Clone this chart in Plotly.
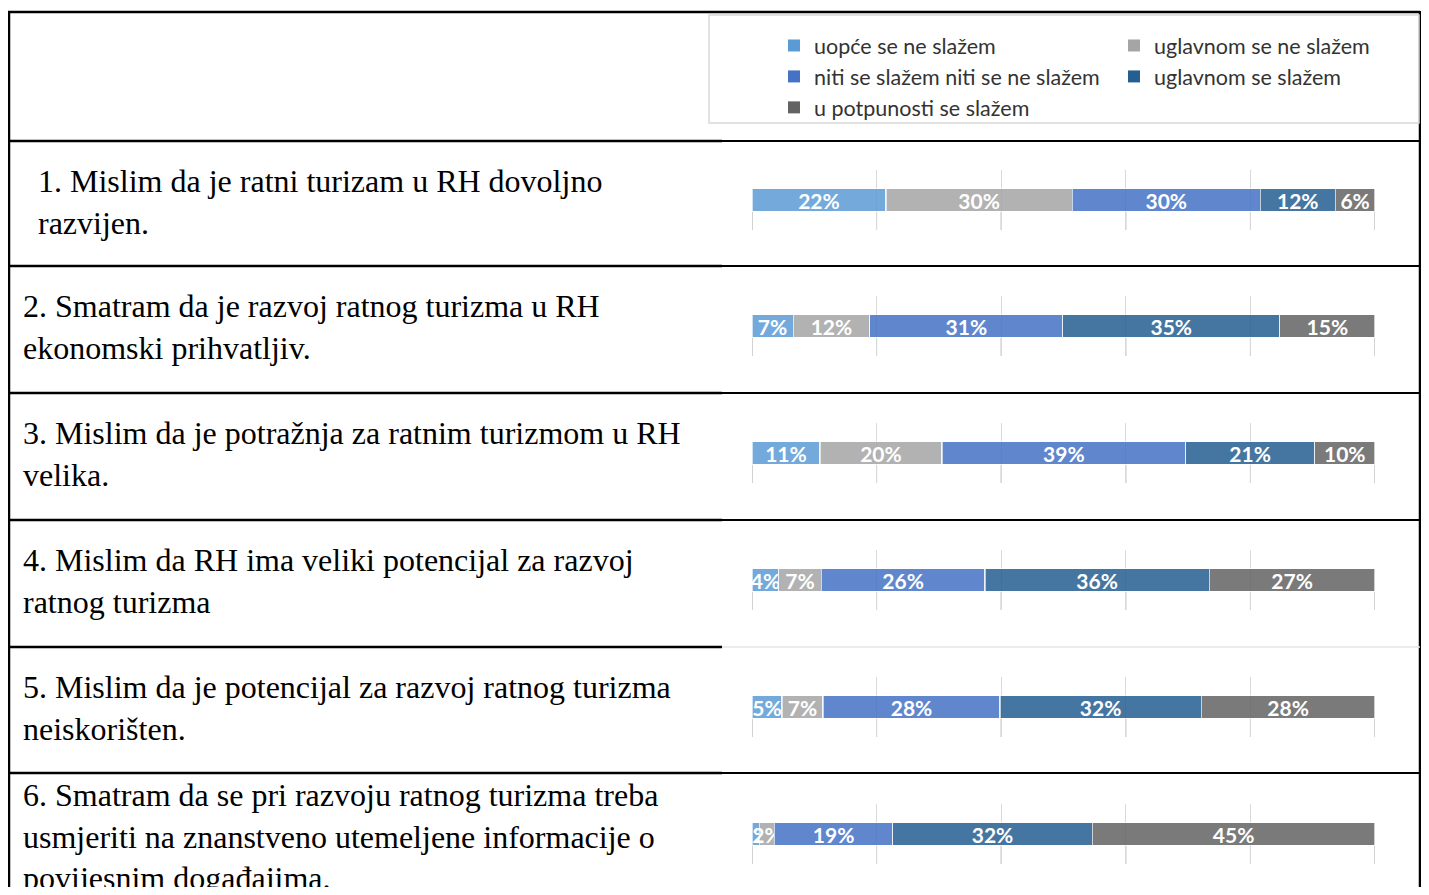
import plotly.graph_objects as go

OFF = 8                     # page body margin offset
W, H = 1429 - 2 * OFF, 895 - 2 * OFF

# ---------------- data ----------------
categories = ["uopće se ne slažem", "uglavnom se ne slažem",
              "niti se slažem niti se ne slažem", "uglavnom se slažem",
              "u potpunosti se slažem"]

statements = [
    "1. Mislim da je ratni turizam u RH dovoljno<br>razvijen.",
    "2. Smatram da je razvoj ratnog turizma u RH<br>ekonomski prihvatljiv.",
    "3. Mislim da je potražnja za ratnim turizmom u RH<br>velika.",
    "4. Mislim da RH ima veliki potencijal za razvoj<br>ratnog turizma",
    "5. Mislim da je potencijal za razvoj ratnog turizma<br>neiskorišten.",
    "6. Smatram da se pri razvoju ratnog turizma treba<br>usmjeriti na znanstveno utemeljene informacije o<br>povijesnim događajima.",
]

q1_values = [21.5, 29.9, 30.2, 12.0, 6.4]
q2_values = [6.6, 12.3, 31.0, 34.8, 15.3]
q3_values = [10.9, 19.6, 39.1, 20.7, 9.7]
q4_values = [4.3, 6.8, 26.3, 36.0, 26.6]
q5_values = [4.8, 6.6, 28.4, 32.3, 27.9]
q6_values = [1.2, 2.4, 19.0, 32.0, 45.4]

q1_labels = ["22%", "30%", "30%", "12%", "6%"]
q2_labels = ["7%", "12%", "31%", "35%", "15%"]
q3_labels = ["11%", "20%", "39%", "21%", "10%"]
q4_labels = ["4%", "7%", "26%", "36%", "27%"]
q5_labels = ["5%", "7%", "28%", "32%", "28%"]
q6_labels = ["1%", "2%", "19%", "32%", "45%"]

x_ticks = [0, 20, 40, 60, 80, 100]

all_values = [q1_values, q2_values, q3_values, q4_values, q5_values, q6_values]
all_labels = [q1_labels, q2_labels, q3_labels, q4_labels, q5_labels, q6_labels]

# ---------------- styles ----------------
legend_colors = ["#5B9BD5", "#A5A5A5", "#4472C4", "#255E91", "#636363"]


def rgba(hex_color, a):
    h = hex_color.lstrip("#")
    r, g, b = int(h[0:2], 16), int(h[2:4], 16), int(h[4:6], 16)
    return f"rgba({r},{g},{b},{a})"


def px(x):
    return (x - OFF) / W


def py(y):
    return 1 - (y - OFF) / H


row_lines = [141, 266, 393, 520, 647, 773]
bar_centers = [200, 326, 453, 580, 707, 834]
text_centers = [202, 327, 454, 581, 708, 836]
text_left = [36, 21, 21, 21, 21, 21]
chart_x0, chart_x1 = 752, 1375
half_h = 30

fig = go.Figure()

for i, (vals, labs) in enumerate(zip(all_values, all_labels)):
    n = i + 1
    xa = "x" if n == 1 else f"x{n}"
    ya = "y" if n == 1 else f"y{n}"
    for j, cat in enumerate(categories):
        fig.add_trace(go.Bar(
            x=[vals[j]], y=[0], orientation="h", name=cat,
            xaxis=xa, yaxis=ya, width=0.38,
            marker=dict(color=rgba(legend_colors[j], 0.85),
                        line=dict(color="rgba(255,255,255,0.65)", width=1.2)),
            text=[labs[j]], textposition="inside", insidetextanchor="middle",
            textangle=0, constraintext="none", cliponaxis=False,
            textfont=dict(family="Lato", size=21, color="white", weight="bold"),
            showlegend=False, hoverinfo="skip",
        ))

# legend entries (full colours), split across two columns
for j, cat in enumerate(categories):
    fig.add_trace(go.Bar(
        x=[None], y=[None], orientation="h", name=cat,
        xaxis="x", yaxis="y",
        marker=dict(color=legend_colors[j], line=dict(width=0)),
        showlegend=True, legend="legend" if j % 2 == 0 else "legend2",
    ))

legend_font = dict(family="Lato", size=21.5, color="#333333")
layout = dict(
    width=W, height=H, margin=dict(l=0, r=0, t=0, b=0),
    paper_bgcolor="white", plot_bgcolor="white",
    barmode="stack", showlegend=True,
    font=dict(family="Lato", color="#333333"),
    legend=dict(x=px(774), y=py(25), xanchor="left", yanchor="top",
                orientation="v", traceorder="normal", bgcolor="rgba(0,0,0,0)",
                font=legend_font),
    legend2=dict(x=px(1114), y=py(25), xanchor="left", yanchor="top",
                 orientation="v", traceorder="normal", bgcolor="rgba(0,0,0,0)",
                 font=legend_font),
)

shapes = []
annotations = []
for i in range(6):
    n = i + 1
    xk = "xaxis" if n == 1 else f"xaxis{n}"
    yk = "yaxis" if n == 1 else f"yaxis{n}"
    c = bar_centers[i]
    layout[xk] = dict(domain=[px(chart_x0), px(chart_x1)], range=[0, 100],
                      tickvals=x_ticks, showticklabels=False, ticks="",
                      showgrid=True, gridcolor="#d9d9d9", gridwidth=1,
                      zeroline=False, showline=False, fixedrange=True,
                      anchor="y" if n == 1 else f"y{n}")
    layout[yk] = dict(domain=[py(c + half_h), py(c - half_h)], range=[-0.5, 0.5],
                      showticklabels=False, showgrid=False, zeroline=False,
                      showline=False, fixedrange=True,
                      anchor="x" if n == 1 else f"x{n}")
    xr = "x" if n == 1 else f"x{n}"
    yr = ("y" if n == 1 else f"y{n}") + " domain"
    for t in x_ticks:
        shapes.append(dict(type="line", xref=xr, yref=yr, x0=t, x1=t, y0=0, y1=0.31,
                           line=dict(color="#a6a6a6", width=1), layer="below"))
    annotations.append(dict(
        text=statements[i], xref="paper", yref="paper",
        x=px(text_left[i]), y=py(text_centers[i]), xanchor="left", yanchor="middle",
        align="left", showarrow=False,
        font=dict(family="Liberation Serif", size=32, color="black")))

# table borders
black = dict(color="black", width=2.5)
RIGHT = 1420
shapes.append(dict(type="line", xref="paper", yref="paper", x0=px(8), x1=px(RIGHT),
                   y0=py(12), y1=py(12), line=black))
shapes.append(dict(type="line", xref="paper", yref="paper", x0=px(9), x1=px(9),
                   y0=py(11), y1=0, line=black))
shapes.append(dict(type="line", xref="paper", yref="paper", x0=px(RIGHT), x1=px(RIGHT),
                   y0=py(11), y1=0, line=black))
for k, yl in enumerate(row_lines):
    shapes.append(dict(type="line", xref="paper", yref="paper", x0=px(8), x1=px(722),
                       y0=py(yl), y1=py(yl), line=black))
    right_line = dict(color="#e6e6e6", width=1.5) if k == 4 else dict(color="black", width=2)
    shapes.append(dict(type="line", xref="paper", yref="paper", x0=px(722), x1=px(RIGHT),
                       y0=py(yl), y1=py(yl), line=right_line))
# legend box
shapes.append(dict(type="rect", xref="paper", yref="paper", x0=px(709), x1=px(RIGHT - 1),
                   y0=py(123), y1=py(15), line=dict(color="#d9d9d9", width=1.5),
                   fillcolor="rgba(0,0,0,0)"))

layout["shapes"] = shapes
layout["annotations"] = annotations
fig.update_layout(**layout)

fig.write_html("out.html")
